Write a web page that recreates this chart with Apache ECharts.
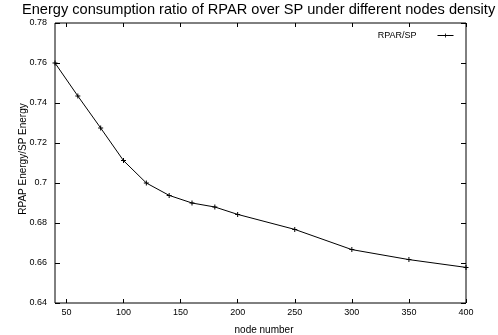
<!DOCTYPE html>
<html>
<head>
<meta charset="utf-8">
<script src="https://cdn.jsdelivr.net/npm/echarts@6/dist/echarts.min.js"></script>
<style>
  html, body { margin: 0; padding: 0; background: #fff; }
  #main { width: 498px; height: 335px; }
</style>
</head>
<body>
<div id="main"></div>
<script>
// node counts and measured RPAR/SP energy ratio
const nodes = [40, 60, 80, 100, 120, 140, 160, 180, 200, 250, 300, 350, 400];
const ratio = [0.760, 0.7435, 0.7275, 0.7112, 0.700, 0.6938, 0.690, 0.688, 0.6843, 0.6768, 0.6667, 0.6617, 0.6578];
const xTicks = [50, 100, 150, 200, 250, 300, 350, 400];

const font = "Liberation Sans";
const plus = "path://M4,0H6V4H10V6H6V10H4V6H0V4H4Z";

const chart = echarts.init(document.getElementById("main"));

const xBase = {
  type: "value",
  min: 40,
  max: 400,
  splitLine: { show: false },
  axisLine: { show: false },
  axisTick: { inside: true, length: 4, customValues: xTicks, lineStyle: { color: "#000" } },
};
const yBase = {
  type: "value",
  min: 0.64,
  max: 0.78,
  interval: 0.02,
  splitLine: { show: false },
  axisLine: { show: false },
  axisTick: { inside: true, length: 5, lineStyle: { color: "#000" } },
};

chart.setOption({
  animation: false,
  textStyle: { fontFamily: font },
  title: {
    text: "Energy consumption ratio of RPAR over SP under different nodes density",
    left: 22,
    top: 2,
    padding: 0,
    textStyle: { fontFamily: font, fontSize: 14.6, fontWeight: "normal", color: "#000" },
  },
  legend: {
    right: 44,
    top: 31,
    padding: 0,
    align: "right",
    itemWidth: 16,
    itemHeight: 5,
    lineStyle: { width: 1, color: "#000" },
    textStyle: { fontFamily: font, fontSize: 9, color: "#000", padding: [0, 16, 0, 0] },
    data: ["RPAR/SP"],
  },
  grid: {
    left: 55, right: 32, top: 23, bottom: 32,
    outerBoundsMode: "none",
    show: true, borderColor: "#000", borderWidth: 1,
  },
  xAxis: [
    Object.assign({}, xBase, {
      position: "bottom",
      name: "node number",
      nameLocation: "middle",
      nameGap: 22,
      nameMoveOverlap: false,
      nameTextStyle: { fontFamily: font, fontSize: 10, color: "#000", padding: [0, 0, 0, 7] },
      axisLabel: { customValues: xTicks, fontFamily: font, fontSize: 9, color: "#000", margin: 5 },
    }),
    Object.assign({}, xBase, { position: "top", axisLabel: { show: false } }),
  ],
  yAxis: [
    Object.assign({}, yBase, {
      position: "left",
      name: "RPAP Energy/SP Energy",
      nameLocation: "middle",
      nameGap: 27,
      nameMoveOverlap: false,
      nameTextStyle: { fontFamily: font, fontSize: 10, color: "#000", padding: [0, 0, 0, 8] },
      axisLabel: { fontFamily: font, fontSize: 9, color: "#000", margin: 8 },
    }),
    Object.assign({}, yBase, { position: "right", axisLabel: { show: false } }),
  ],
  series: [
    {
      name: "RPAR/SP",
      type: "line",
      xAxisIndex: 0,
      yAxisIndex: 0,
      data: nodes.map((n, i) => [n, ratio[i]]),
      symbol: plus,
      symbolSize: 5,
      showAllSymbol: true,
      itemStyle: { color: "#000" },
      lineStyle: { color: "#000", width: 1 },
    },
  ],
});
</script>
</body>
</html>
